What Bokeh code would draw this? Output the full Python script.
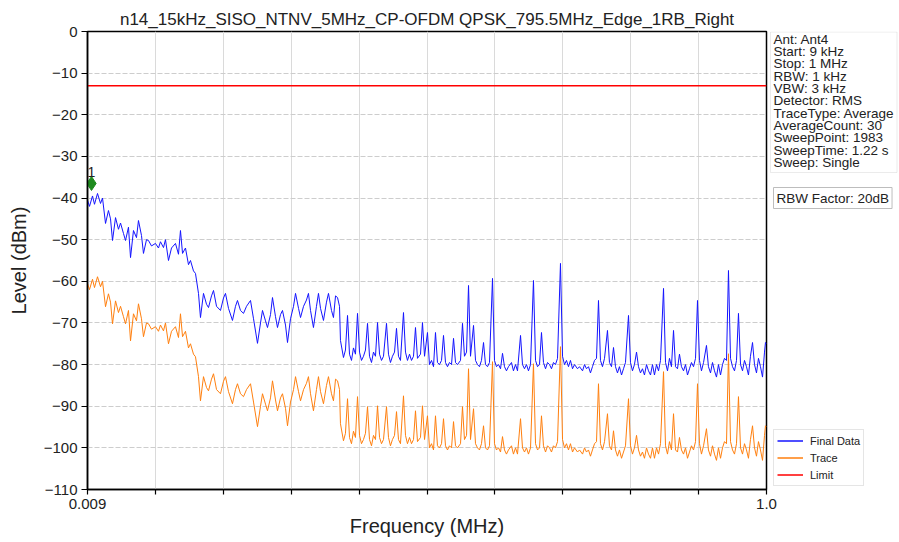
from bokeh.plotting import figure
from bokeh.models import Range1d, FixedTicker, Label, Legend, LegendItem, BoxAnnotation
from bokeh.layouts import row
from bokeh.core.properties import value
from bokeh.embed import file_html
from bokeh.resources import INLINE

# ---------------- data ----------------
TITLE = "n14_15kHz_SISO_NTNV_5MHz_CP-OFDM QPSK_795.5MHz_Edge_1RB_Right"
RBW_FACTOR_DB = 20
LIMIT_DBM = -13

info_lines = ["Ant: Ant4", "Start: 9 kHz", "Stop: 1 MHz", "RBW: 1 kHz", "VBW: 3 kHz",
              "Detector: RMS", "TraceType: Average", "AverageCount: 30",
              "SweepPoint: 1983", "SweepTime: 1.22 s", "Sweep: Single"]
rbw_factor_text = "RBW Factor: 20dB"
legend_labels = ["Final Data", "Trace", "Limit"]

x_ticks = [0.009, 0.1081, 0.2072, 0.3063, 0.4054, 0.5045, 0.6036, 0.7027, 0.8018, 0.9009, 1.0]
x_tick_labels = {0.009: "0.009", 1.0: "1.0"}
y_ticks = [0, -10, -20, -30, -40, -50, -60, -70, -80, -90, -100, -110]

freq_mhz = [
    0.0090, 0.0119, 0.0163, 0.0192, 0.0236, 0.0280, 0.0309, 0.0353, 0.0396, 0.0426,
    0.0455, 0.0499, 0.0542, 0.0572, 0.0615, 0.0645, 0.0688, 0.0718, 0.0761, 0.0805,
    0.0834, 0.0878, 0.0907, 0.0951, 0.0980, 0.1024, 0.1082, 0.1126, 0.1155, 0.1199,
    0.1228, 0.1272, 0.1316, 0.1374, 0.1418, 0.1447, 0.1477, 0.1520, 0.1564, 0.1593,
    0.1637, 0.1666, 0.1710, 0.1739, 0.1783, 0.1827, 0.1856, 0.1900, 0.1929, 0.1973,
    0.2031, 0.2075, 0.2104, 0.2148, 0.2206, 0.2250, 0.2279, 0.2323, 0.2367, 0.2411,
    0.2469, 0.2513, 0.2571, 0.2615, 0.2644, 0.2688, 0.2717, 0.2761, 0.2790, 0.2834,
    0.2863, 0.2907, 0.2936, 0.2980, 0.3009, 0.3053, 0.3097, 0.3126, 0.3170, 0.3199,
    0.3243, 0.3286, 0.3315, 0.3345, 0.3388, 0.3432, 0.3461, 0.3491, 0.3534, 0.3578,
    0.3607, 0.3651, 0.3680, 0.3710, 0.3739, 0.3768, 0.3782, 0.3826,
    0.3855, 0.3885, 0.3914, 0.3943, 0.3972, 0.4001, 0.4031, 0.4060, 0.4089, 0.4118,
    0.4147, 0.4177, 0.4206, 0.4235, 0.4264, 0.4293, 0.4323, 0.4352, 0.4381, 0.4410,
    0.4454, 0.4483, 0.4512, 0.4541, 0.4571, 0.4600, 0.4629, 0.4658, 0.4702, 0.4731,
    0.4760, 0.4790, 0.4819, 0.4848, 0.4877, 0.4906, 0.4950, 0.4979, 0.5009, 0.5052,
    0.5081, 0.5111, 0.5140, 0.5169, 0.5198, 0.5227, 0.5257, 0.5286, 0.5315, 0.5344,
    0.5373, 0.5403, 0.5432, 0.5461, 0.5490, 0.5534, 0.5563, 0.5592, 0.5622, 0.5651,
    0.5680, 0.5724, 0.5753, 0.5782, 0.5811, 0.5840, 0.5870, 0.5899, 0.5928, 0.5957,
    0.6001, 0.6030, 0.6059, 0.6089, 0.6118, 0.6147, 0.6176, 0.6205, 0.6234, 0.6278,
    0.6307, 0.6337, 0.6366, 0.6410, 0.6439, 0.6468, 0.6497, 0.6526, 0.6556, 0.6599,
    0.6629, 0.6658, 0.6687, 0.6716, 0.6745, 0.6775, 0.6804, 0.6833, 0.6862, 0.6891,
    0.6920, 0.6950, 0.6993, 0.7023, 0.7052, 0.7081, 0.7110, 0.7139, 0.7169, 0.7198,
    0.7242, 0.7271, 0.7315, 0.7344, 0.7373, 0.7402, 0.7431, 0.7460, 0.7490, 0.7519,
    0.7548, 0.7577, 0.7606, 0.7636, 0.7679, 0.7708, 0.7738, 0.7767, 0.7796, 0.7825,
    0.7854, 0.7884, 0.7913, 0.7942, 0.7986, 0.8015, 0.8044, 0.8073, 0.8103, 0.8132,
    0.8161, 0.8190, 0.8219, 0.8249, 0.8278, 0.8307, 0.8336, 0.8365, 0.8395, 0.8424,
    0.8453, 0.8497, 0.8526, 0.8555, 0.8584, 0.8613, 0.8643, 0.8672, 0.8701, 0.8730,
    0.8759, 0.8789, 0.8818, 0.8847, 0.8876, 0.8905, 0.8935, 0.8964, 0.8993, 0.9022,
    0.9051, 0.9081, 0.9124, 0.9153, 0.9183, 0.9212, 0.9241, 0.9270, 0.9299, 0.9329,
    0.9358, 0.9387, 0.9416, 0.9445, 0.9475, 0.9504, 0.9533, 0.9562, 0.9591, 0.9621,
    0.9650, 0.9679, 0.9708, 0.9737, 0.9766, 0.9796, 0.9825, 0.9854, 0.9883, 0.9912,
    0.9942, 0.9971, 0.9985, 1.0000,
]

# raw "Trace" level (dBm); Final Data = Trace + RBW factor
trace_dbm = [
    -60.5, -62.0, -59.5, -61.5, -58.9, -61.3, -60.0, -66.1, -63.0, -65.0,
    -70.2, -64.7, -67.5, -66.0, -68.5, -70.2, -67.0, -74.3, -67.8, -69.5,
    -65.4, -69.0, -73.3, -70.0, -70.2, -71.5, -70.9, -72.0, -70.5, -71.9,
    -70.0, -75.0, -72.0, -70.9, -73.5, -67.8, -73.3, -72.0, -76.0, -75.0,
    -77.5, -78.1, -82.9, -88.7, -82.9, -85.5, -86.3, -83.5, -82.2, -86.0,
    -87.0, -84.0, -82.9, -86.5, -89.4, -86.0, -84.6, -87.0, -87.7, -86.0,
    -84.6, -89.0, -94.9, -90.0, -87.0, -89.5, -91.1, -88.0, -83.9, -88.5,
    -91.1, -88.0, -87.0, -90.5, -94.7, -89.0, -86.0, -82.9, -86.5, -88.7,
    -86.0, -84.5, -82.9, -87.0, -91.1, -86.0, -82.9, -86.5, -89.4, -85.0,
    -82.9, -87.0, -88.7, -83.5, -83.9, -86.0, -94.2, -98.3,
    -96.5, -88.2, -97.5, -99.0, -96.0, -97.5, -87.7, -97.0, -99.0, -98.0,
    -96.5, -90.1, -98.0, -99.5, -97.0, -98.0, -89.9, -97.5, -99.0, -98.0,
    -90.1, -97.5, -99.5, -98.0, -97.0, -91.3, -98.0, -99.0, -87.5, -97.0,
    -99.0, -97.5, -99.0, -98.0, -91.1, -98.5, -97.5, -89.9, -98.0, -92.3,
    -100.0, -99.0, -100.5, -92.3, -99.5, -100.0, -99.0, -93.0, -99.5, -100.5,
    -99.5, -100.0, -93.7, -99.5, -100.0, -99.0, -90.1, -98.0, -97.0, -81.0,
    -98.0, -90.6, -99.0, -100.0, -100.5, -99.0, -94.7, -100.0, -100.5, -99.5,
    -79.3, -99.0, -100.5, -100.0, -101.0, -97.3, -100.5, -101.5, -100.5, -99.5,
    -101.5, -100.0, -101.5, -93.0, -100.0, -101.0, -100.0, -101.5, -100.0, -79.8,
    -99.0, -100.5, -100.0, -92.3, -99.5, -101.0, -99.5, -100.0, -101.0, -99.5,
    -100.0, -98.5, -75.7, -98.0, -100.0, -99.0, -100.5, -99.0, -101.0, -100.0,
    -101.0, -100.5, -101.5, -100.0, -101.0, -100.5, -102.0, -100.5, -99.0, -98.5,
    -84.6, -99.0, -100.5, -98.5, -91.8, -99.5, -100.5, -95.9, -100.5, -102.0,
    -100.5, -102.5, -101.0, -99.5, -88.2, -99.5, -101.5, -100.0, -97.0, -100.5,
    -102.0, -101.0, -102.5, -100.0, -101.5, -102.5, -100.0, -102.5, -100.0, -101.5,
    -99.0, -81.7, -99.5, -101.5, -98.5, -100.5, -91.8, -100.5, -101.0, -97.5,
    -100.5, -101.5, -100.0, -102.5, -101.0, -99.5, -100.5, -98.5, -84.6, -99.0,
    -101.5, -99.5, -95.4, -100.5, -102.0, -99.5, -101.5, -103.0, -100.0, -102.5,
    -100.0, -98.5, -99.0, -77.4, -98.5, -100.5, -101.5, -99.0, -87.7, -100.0,
    -101.5, -99.0, -100.5, -102.5, -98.0, -94.7, -100.0, -102.0, -98.5, -100.5,
    -103.0, -97.0, -94.7, -95.0,
]
final_dbm = [v + RBW_FACTOR_DB for v in trace_dbm]

limit_freq = [0.009, 1.0]
limit_dbm = [LIMIT_DBM, LIMIT_DBM]

marker_freq = [0.0148]
marker_dbm = [-36.5]
marker_labels = ["1"]

# ---------------- style ----------------
FONT = "Liberation Sans"
BLUE = "#1414ff"
ORANGE = "#ff7f0e"
RED = "#ff0000"
TXT = "#222222"

TOTAL_W, TOTAL_H = 898, 541
MAIN_W = 780
INFO_LEFT = 768
FRAME_TOP, FRAME_BOTTOM = 31, 489

p = figure(width=MAIN_W, height=TOTAL_H, output_backend="svg", toolbar_location=None,
           x_range=Range1d(0.009, 1.0), y_range=Range1d(-110, 0),
           min_border_left=87, min_border_right=MAIN_W - 766, min_border_top=FRAME_TOP,
           min_border_bottom=TOTAL_H - FRAME_BOTTOM,
           background_fill_color="white", border_fill_color="white")

p.title.text = TITLE
p.title.align = "center"
p.title.text_font = FONT
p.title.text_font_size = "17px"
p.title.text_font_style = "normal"
p.title.text_color = TXT
p.title.standoff = 5

p.outline_line_color = "black"
p.outline_line_width = 1.5

p.xaxis.ticker = FixedTicker(ticks=x_ticks)
p.xaxis.major_label_overrides = {t: x_tick_labels.get(t, "") for t in x_ticks}
p.yaxis.ticker = FixedTicker(ticks=y_ticks)
p.yaxis.major_label_overrides = {t: (str(t) if t == 0 else "\u2212" + str(-t)) for t in y_ticks}
for ax in (p.xaxis, p.yaxis):
    ax.axis_line_color = "black"
    ax.axis_line_width = 1.5
    ax.major_tick_line_color = "black"
    ax.major_tick_line_width = 1.2
    ax.major_tick_in = 0
    ax.minor_tick_line_color = None
    ax.major_label_text_font = FONT
    ax.major_label_text_font_size = "15px"
    ax.major_label_text_color = TXT
    ax.major_label_standoff = 4
    ax.axis_label_text_font = FONT
    ax.axis_label_text_font_size = "20px"
    ax.axis_label_text_font_style = "normal"
    ax.axis_label_text_color = TXT
p.xaxis.major_tick_out = 5
p.yaxis.major_tick_out = 6
p.xaxis.axis_label = "Frequency (MHz)"
p.xaxis.axis_label_standoff = 3
p.yaxis.axis_label = "Level (dBm)"
p.yaxis.axis_label_standoff = 11

p.xgrid.grid_line_color = "#dadada"
p.xgrid.grid_line_width = 1
p.ygrid.grid_line_color = "#cdcdcd"
p.ygrid.grid_line_dash = "5 2"
p.ygrid.grid_line_width = 1

p.line(freq_mhz, trace_dbm, line_color=ORANGE, line_width=1)
p.line(freq_mhz, final_dbm, line_color=BLUE, line_width=1)
p.line(limit_freq, limit_dbm, line_color=RED, line_width=1.5)

p.scatter(marker_freq, marker_dbm, marker="diamond", size=14, fill_color="#1e8a1e",
          line_color="#1e8a1e")
p.text(marker_freq, marker_dbm, text=marker_labels, y_offset=-6, text_align="center",
       text_baseline="bottom", text_font=value(FONT), text_font_size=value("14px"),
       text_color=TXT)

# ---------------- info panel (right side; data units = page pixels, y up) ----------------
# its frame is aligned with the main frame vertically (rows align plot frames)
info = figure(width=TOTAL_W - INFO_LEFT, height=TOTAL_H, output_backend="svg",
              toolbar_location=None, x_axis_type=None, y_axis_type=None,
              x_range=Range1d(INFO_LEFT, TOTAL_W),
              y_range=Range1d(TOTAL_H - FRAME_BOTTOM, TOTAL_H - FRAME_TOP),
              min_border_left=0, min_border_right=0, min_border_top=FRAME_TOP,
              min_border_bottom=TOTAL_H - FRAME_BOTTOM,
              margin=(0, 0, 0, INFO_LEFT - MAIN_W))
info.outline_line_color = None
info.background_fill_alpha = 0
info.border_fill_alpha = 0
info.grid.visible = False


def py(page_y):
    return TOTAL_H - page_y


info.add_layout(BoxAnnotation(left=770, right=896.5, top=py(31.5), bottom=py(172),
                              fill_color="white", fill_alpha=1.0,
                              line_color="#bdbdbd", line_width=1))
for i, line in enumerate(info_lines):
    info.add_layout(Label(x=773, y=py(38.5 + 12.35 * i), text=line, text_align="left",
                          text_baseline="middle", text_font=FONT, text_font_size="13.5px",
                          text_color=TXT))
info.add_layout(Label(x=773, y=py(197.5), text=rbw_factor_text, text_align="left",
                      text_baseline="middle", text_font=FONT, text_font_size="13.5px",
                      text_color=TXT, border_line_color="#bdbdbd",
                      background_fill_color="white", padding=3))

# legend swatches (style only, nothing plotted)
nan = float("nan")
g_final = info.line([nan], [nan], line_color=BLUE, line_width=1.5)
g_trace = info.line([nan], [nan], line_color=ORANGE, line_width=1.5)
g_limit = info.line([nan], [nan], line_color=RED, line_width=1.5)
legend = Legend(items=[LegendItem(label=legend_labels[0], renderers=[g_final]),
                       LegendItem(label=legend_labels[1], renderers=[g_trace]),
                       LegendItem(label=legend_labels[2], renderers=[g_limit])],
                location=(773 - INFO_LEFT, FRAME_BOTTOM - 486), padding=3, spacing=2,
                margin=0, label_height=15, glyph_height=15, glyph_width=26,
                label_standoff=7, label_text_font=FONT, label_text_font_size="11px",
                label_text_color=TXT, border_line_color="#cccccc",
                background_fill_color="white", background_fill_alpha=1.0)
info.add_layout(legend)

layout = row(p, info)
open("out.html", "w").write(file_html(layout, INLINE))
